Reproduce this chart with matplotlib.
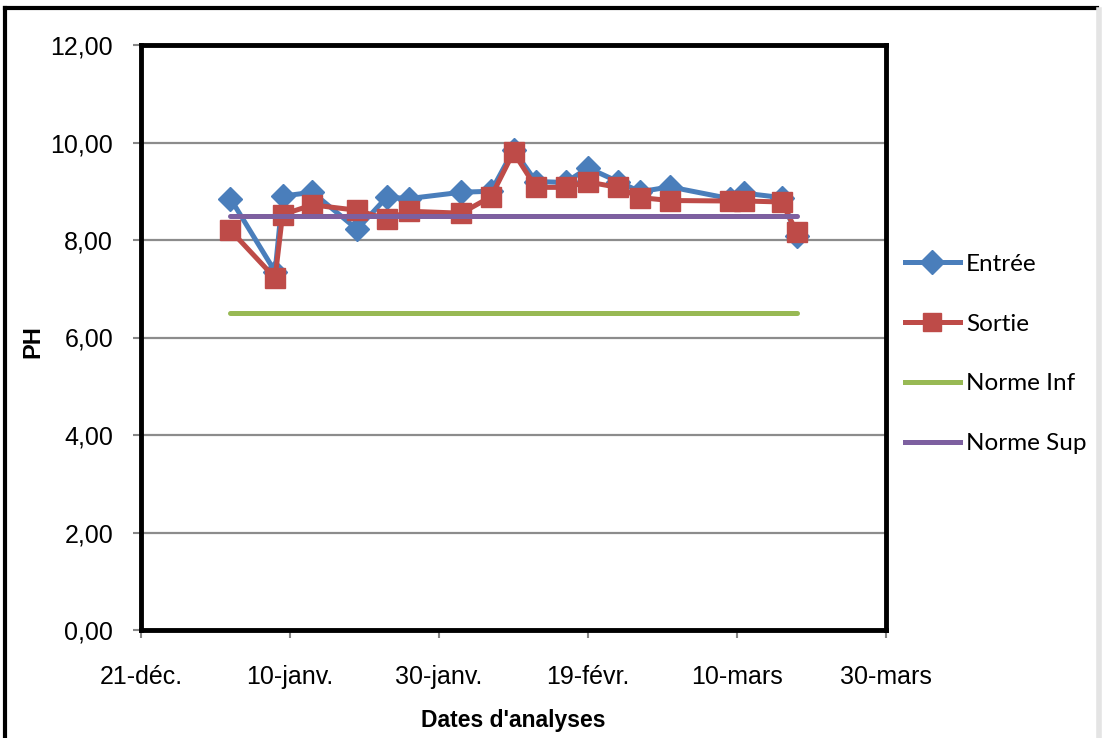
import matplotlib
matplotlib.use("Agg")
import matplotlib.pyplot as plt
from matplotlib.lines import Line2D
import pandas as pd

# pH measurements at the inlet and outlet of the treatment plant
dates = pd.to_datetime([
    "2012-01-02", "2012-01-08", "2012-01-09", "2012-01-13", "2012-01-19",
    "2012-01-23", "2012-01-26", "2012-02-02", "2012-02-06", "2012-02-09",
    "2012-02-12", "2012-02-16", "2012-02-19", "2012-02-23", "2012-02-26",
    "2012-03-01", "2012-03-09", "2012-03-11", "2012-03-16", "2012-03-18",
])
entree = [8.85, 7.35, 8.90, 8.98, 8.22, 8.88, 8.85, 8.98, 9.00, 9.85,
          9.20, 9.18, 9.48, 9.20, 8.99, 9.09, 8.85, 8.96, 8.87, 8.08]
sortie = [8.20, 7.22, 8.52, 8.72, 8.61, 8.43, 8.59, 8.55, 8.89, 9.80,
          9.08, 9.08, 9.19, 9.08, 8.87, 8.81, 8.80, 8.80, 8.78, 8.17]
norme_inf = [6.5] * len(dates)
norme_sup = [8.5] * len(dates)

tick_dates = pd.to_datetime(["2011-12-21", "2012-01-10", "2012-01-30",
                             "2012-02-19", "2012-03-10", "2012-03-30"])
tick_labels = ["21-déc.", "10-janv.", "30-janv.", "19-févr.", "10-mars", "30-mars"]
y_ticks = [0, 2, 4, 6, 8, 10, 12]
y_labels = ["0,00", "2,00", "4,00", "6,00", "8,00", "10,00", "12,00"]

W, H = 1105, 738
fig = plt.figure(figsize=(W / 100, H / 100), dpi=100)
fig.patch.set_facecolor("white")

sans = ["Liberation Sans", "DejaVu Sans"]
legend_font = ["Lato", "DejaVu Sans"]

BLUE, RED, GREEN, PURPLE = "#4A7EBB", "#BE4B48", "#98B954", "#7D60A0"

ax = fig.add_axes([141 / W, 1 - 630 / H, (886 - 141) / W, (630 - 45) / H])

ax.plot(dates, entree, color=BLUE, lw=3.6, marker="D", markersize=12.5,
        markerfacecolor=BLUE, markeredgecolor=BLUE, label="Entrée", zorder=3)
ax.plot(dates, sortie, color=RED, lw=3.6, marker="s", markersize=14,
        markerfacecolor=RED, markeredgecolor=RED, label="Sortie", zorder=4)
ax.plot(dates, norme_inf, color=GREEN, lw=3.6, label="Norme Inf", zorder=5,
        solid_capstyle="round")
ax.plot(dates, norme_sup, color=PURPLE, lw=3.6, label="Norme Sup", zorder=6,
        solid_capstyle="round")

ax.set_xlim(tick_dates[0], tick_dates[-1])
ax.set_ylim(0, 12)
ax.set_xticks(tick_dates)
ax.set_xticklabels(tick_labels, family=sans, fontsize=18)
ax.set_yticks(y_ticks)
ax.set_yticklabels(y_labels, family=sans, fontsize=18)
ax.tick_params(axis="both", direction="out", length=6, width=1.5, color="#868686")
ax.tick_params(axis="x", pad=19)
ax.tick_params(axis="y", pad=14)
ax.grid(axis="y", color="#8C8C8C", lw=1.6, zorder=0)
ax.set_axisbelow(True)
for side in ax.spines.values():
    side.set_color("black")
    side.set_linewidth(3.5)

fig.text(33 / W, 1 - 342 / H, "PH", rotation=90, ha="center", va="center",
         family=sans, fontsize=17, fontweight="bold")
fig.text(513 / W, 1 - 721 / H, "Dates d'analyses", ha="center", va="center",
         family=sans, fontsize=16.5, fontweight="bold")

handles = [
    Line2D([], [], color=BLUE, lw=3.6, marker="D", markersize=12),
    Line2D([], [], color=RED, lw=3.6, marker="s", markersize=13),
    Line2D([], [], color=GREEN, lw=3.6),
    Line2D([], [], color=PURPLE, lw=3.6),
]
fig.legend(handles, ["Entrée", "Sortie", "Norme Inf", "Norme Sup"],
           loc="center left", bbox_to_anchor=(883 / W, 1 - 354 / H),
           frameon=False, prop={"family": legend_font, "size": 17.5},
           handlelength=2.26, handletextpad=0.25, labelspacing=1.6)

# outer chart frame
fig.add_artist(Line2D([5 / W, 5 / W], [0, 1 - 8 / H], color="black", lw=3,
                      transform=fig.transFigure))
fig.add_artist(Line2D([5 / W, 1097 / W], [1 - 8 / H, 1 - 8 / H], color="black", lw=3,
                      transform=fig.transFigure))
fig.add_artist(Line2D([1099 / W, 1099 / W], [0, 1 - 10 / H], color="#E4E4E4", lw=4,
                      transform=fig.transFigure))

fig.savefig("out.png", dpi=100)
